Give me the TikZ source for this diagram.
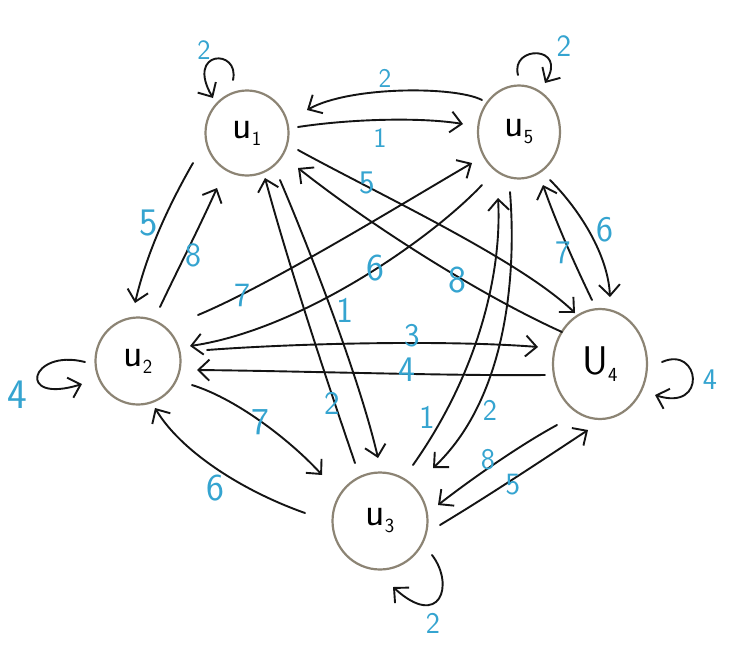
\documentclass[tikz,border=0pt]{standalone}
\usetikzlibrary{arrows.meta,shapes.geometric,calc}
\definecolor{ring}{HTML}{8C8474}
\definecolor{wlab}{HTML}{35A4D0}
\newcommand\vlab[2]{#1\raisebox{-7pt}{\fontsize{20}{20}\selectfont #2}}
\begin{document}
\begin{tikzpicture}[x=1pt,y=-1pt,
  vert/.style={ellipse,draw=ring,line width=2.2pt,inner sep=0pt,font=\fontsize{40}{40}\selectfont\sffamily},
  edge/.style={draw=black!92,line width=1.9pt,line cap=round,-{Straight Barb[length=11pt,width=21pt,line width=1.9pt]}},
  wt/.style={text=wlab,font=\fontsize{#1}{#1}\selectfont\sffamily,inner sep=0pt},
  wt/.default=30]
\useasboundingbox (0,0) rectangle (741,651);
\fill[white] (0,0) rectangle (741,651);
% vertices
\node[vert,minimum width=83pt,minimum height=85pt] (u1) at (247,133) {\vlab{u}{1}};
\node[vert,minimum width=82pt,minimum height=93pt] (u5) at (519,132) {\vlab{u}{5}};
\node[vert,minimum width=85pt,minimum height=87pt] (u2) at (138,361) {\vlab{u}{2}};
\node[vert,minimum width=94pt,minimum height=110pt] (u4) at (600,364) {\vlab{U}{4}};
\node[vert,minimum width=95pt,minimum height=97pt] (u3) at (380,521) {\vlab{u}{3}};
% edges
\draw[edge] ($(u5)+(-37,-32)$) .. controls (455,86) and (350,86) .. ($(u1)+(60,-23)$);
\draw[edge] ($(u1)+(51,-6)$) .. controls (350,119) and (420,117) .. ($(u5)+(-56,-8)$);
\draw[edge] ($(u1)+(-14,-53)$) .. controls (240,48) and (185,50) .. ($(u1)+(-34,-35)$);
\draw[edge] ($(u5)+(-1,-57)$) .. controls (510,45) and (568,45) .. ($(u5)+(26,-49)$);
\draw[edge] ($(u1)+(-54,30)$) .. controls (166,210) and (146,256) .. ($(u2)+(-3,-58)$);
\draw[edge] ($(u2)+(22,-54)$) .. controls (179,267) and (199,228) .. ($(u1)+(-30,55)$);
\draw[edge] ($(u2)+(-53,1)$) .. controls (30,348) and (15,405) .. ($(u2)+(-56,23)$);
\draw[edge] ($(u2)+(60,-46)$) .. controls (270,285) and (400,205) .. ($(u5)+(-47,31)$);
\draw[edge] ($(u5)+(-37,53)$) .. controls (430,240) and (300,330) .. ($(u2)+(52,-15)$);
\draw[edge] ($(u1)+(51,17)$) .. controls (380,195) and (520,260) .. ($(u4)+(-25,-51)$);
\draw[edge] ($(u4)+(-38,-32)$) .. controls (480,295) and (370,225) .. ($(u1)+(51,35)$);
\draw[edge] ($(u1)+(33,47)$) .. controls (310,250) and (360,380) .. ($(u3)+(-2,-63)$);
\draw[edge] ($(u3)+(-25,-58)$) .. controls (330,390) and (290,270) .. ($(u1)+(18,45)$);
\draw[edge] ($(u2)+(69,-11)$) .. controls (300,343) and (450,340) .. ($(u4)+(-62,-17)$);
\draw[edge] ($(u4)+(-55,11)$) .. controls (450,376) and (300,371) .. ($(u2)+(59,9)$);
\draw[edge] ($(u2)+(54,24)$) .. controls (240,400) and (295,445) .. ($(u3)+(-58,-46)$);
\draw[edge] ($(u3)+(-75,-8)$) .. controls (240,490) and (180,450) .. ($(u2)+(17,47)$);
\draw[edge] ($(u3)+(33,-56)$) .. controls (480,370) and (502,270) .. ($(u5)+(-21,66)$);
\draw[edge] ($(u5)+(-9,60)$) .. controls (517,280) and (505,400) .. ($(u3)+(53,-53)$);
\draw[edge] ($(u5)+(31,48)$) .. controls (580,210) and (608,255) .. ($(u4)+(10,-67)$);
\draw[edge] ($(u4)+(-8,-64)$) .. controls (575,265) and (555,220) .. ($(u5)+(24,53)$);
\draw[edge] ($(u4)+(62,-2)$) .. controls (700,345) and (708,412) .. ($(u4)+(55,31)$);
\draw[edge] ($(u4)+(-43,61)$) .. controls (520,445) and (470,480) .. ($(u3)+(58,-16)$);
\draw[edge] ($(u3)+(60,4)$) .. controls (490,495) and (550,455) .. ($(u4)+(-12,66)$);
\draw[edge] ($(u3)+(52,34)$) .. controls (455,585) and (440,630) .. ($(u3)+(13,66)$);
% weights
\node[wt=27] (la) at (385,78) {2};
\node[wt=28] (lb) at (380,138) {1};
\node[wt=28] (lc) at (204,50) {2};
\node[wt=31] (ld) at (564,46) {2};
\node[wt=39] (le) at (149,223) {5};
\node[wt=34] (lf) at (193,255) {8};
\node[wt=42] (lg) at (17,395) {4};
\node[wt=34] (lh) at (242,295) {7};
\node[wt=38] (li) at (375,268) {6};
\node[wt=33] (lj) at (367,183) {5};
\node[wt=38] (lk) at (457,280) {8};
\node[wt=36] (ll) at (345,310) {1};
\node[wt=33] (lm) at (332,403) {2};
\node[wt=33] (ln) at (412,336) {3};
\node[wt=36] (lo) at (407,370) {4};
\node[wt=38] (lp) at (260,422) {7};
\node[wt=38] (lq) at (215,488) {6};
\node[wt=33] (lr) at (427,417) {1};
\node[wt=30] (ls) at (490,410) {2};
\node[wt=36] (lt) at (605,230) {6};
\node[wt=33] (lu) at (563,253) {7};
\node[wt=30] (lv) at (710,380) {4};
\node[wt=30] (lw) at (488,460) {8};
\node[wt=31] (lx) at (513,485) {5};
\node[wt=30] (ly) at (433,623) {2};
\end{tikzpicture}
\end{document}
